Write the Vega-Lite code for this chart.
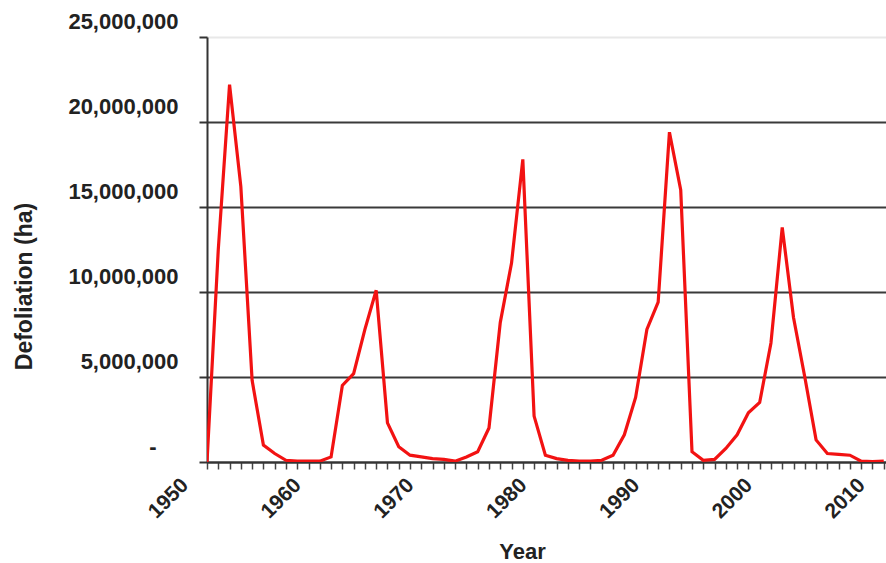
{
  "$schema": "https://vega.github.io/schema/vega-lite/v6.json",
  "width": 679,
  "height": 425,
  "autosize": "none",
  "padding": {"left": 207, "top": 37, "right": 0, "bottom": 101},
  "background": "white",
  "config": {"view": {"stroke": null}, "font": "Liberation Sans"},
  "data": {"values": [
    {"year": 1950, "ha": 0},
    {"year": 1951, "ha": 12500000},
    {"year": 1952, "ha": 22200000},
    {"year": 1953, "ha": 16200000},
    {"year": 1954, "ha": 4800000},
    {"year": 1955, "ha": 1000000},
    {"year": 1956, "ha": 500000},
    {"year": 1957, "ha": 100000},
    {"year": 1958, "ha": 50000},
    {"year": 1959, "ha": 50000},
    {"year": 1960, "ha": 50000},
    {"year": 1961, "ha": 300000},
    {"year": 1962, "ha": 4500000},
    {"year": 1963, "ha": 5200000},
    {"year": 1964, "ha": 7800000},
    {"year": 1965, "ha": 10100000},
    {"year": 1966, "ha": 2300000},
    {"year": 1967, "ha": 900000},
    {"year": 1968, "ha": 400000},
    {"year": 1969, "ha": 300000},
    {"year": 1970, "ha": 200000},
    {"year": 1971, "ha": 150000},
    {"year": 1972, "ha": 50000},
    {"year": 1973, "ha": 300000},
    {"year": 1974, "ha": 600000},
    {"year": 1975, "ha": 2000000},
    {"year": 1976, "ha": 8200000},
    {"year": 1977, "ha": 11700000},
    {"year": 1978, "ha": 17800000},
    {"year": 1979, "ha": 2700000},
    {"year": 1980, "ha": 400000},
    {"year": 1981, "ha": 200000},
    {"year": 1982, "ha": 100000},
    {"year": 1983, "ha": 50000},
    {"year": 1984, "ha": 50000},
    {"year": 1985, "ha": 100000},
    {"year": 1986, "ha": 400000},
    {"year": 1987, "ha": 1600000},
    {"year": 1988, "ha": 3800000},
    {"year": 1989, "ha": 7800000},
    {"year": 1990, "ha": 9400000},
    {"year": 1991, "ha": 19400000},
    {"year": 1992, "ha": 16000000},
    {"year": 1993, "ha": 600000},
    {"year": 1994, "ha": 100000},
    {"year": 1995, "ha": 150000},
    {"year": 1996, "ha": 800000},
    {"year": 1997, "ha": 1600000},
    {"year": 1998, "ha": 2900000},
    {"year": 1999, "ha": 3500000},
    {"year": 2000, "ha": 7000000},
    {"year": 2001, "ha": 13800000},
    {"year": 2002, "ha": 8500000},
    {"year": 2003, "ha": 5000000},
    {"year": 2004, "ha": 1300000},
    {"year": 2005, "ha": 500000},
    {"year": 2006, "ha": 450000},
    {"year": 2007, "ha": 400000},
    {"year": 2008, "ha": 50000},
    {"year": 2009, "ha": 30000},
    {"year": 2010, "ha": 50000}
  ]},
  "mark": {"type": "line", "color": "#f21212", "strokeWidth": 3.2, "clip": true},
  "encoding": {
    "x": {
      "field": "year",
      "type": "quantitative",
      "scale": {"domain": [1950, 2010.2], "nice": false, "zero": false},
      "axis": {
        "title": "Year",
        "values": [1950,1951,1952,1953,1954,1955,1956,1957,1958,1959,1960,1961,1962,1963,1964,1965,1966,1967,1968,1969,1970,1971,1972,1973,1974,1975,1976,1977,1978,1979,1980,1981,1982,1983,1984,1985,1986,1987,1988,1989,1990,1991,1992,1993,1994,1995,1996,1997,1998,1999,2000,2001,2002,2003,2004,2005,2006,2007,2008,2009,2010],
        "format": "d",
        "labelExpr": "datum.value % 10 === 0 ? datum.label : ''",
        "labelAngle": -45,
        "labelOffset": -30,
        "labelOverlap": false,
        "labelFlush": false,
        "labelBound": false,
        "labelFontSize": 21,
        "labelFontWeight": "bold",
        "labelColor": "#222222",
        "labelPadding": 5,
        "tickSize": 7,
        "tickColor": "#444444",
        "tickWidth": 1.5,
        "domainColor": "#333333",
        "domainWidth": 2,
        "grid": false,
        "titleFontSize": 22,
        "titleFontWeight": "bold",
        "titleColor": "#222222",
        "titleX": 315,
        "titleY": 89,
        "titleAlign": "center",
        "titleBaseline": "middle"
      }
    },
    "y": {
      "field": "ha",
      "type": "quantitative",
      "scale": {"domain": [0, 25000000], "nice": false},
      "axis": {
        "title": "Defoliation  (ha)",
        "values": [0, 5000000, 10000000, 15000000, 20000000, 25000000],
        "labelExpr": "datum.value == 0 ? '-' : format(datum.value, ',')",
        "labelFontSize": 22,
        "labelFontWeight": "bold",
        "labelColor": "#222222",
        "labelOffset": -16,
        "labelPadding": {"condition": {"test": "datum.value == 0", "value": 43}, "value": 21},
        "tickSize": 8,
        "tickColor": "#333333",
        "tickWidth": 2,
        "domainColor": "#333333",
        "domainWidth": 2,
        "grid": true,
        "gridColor": {"condition": {"test": "datum.value >= 25000000", "value": "#e8e8e8"}, "value": "#3a3a3a"},
        "gridWidth": 2,
        "titleFontSize": 23,
        "titleFontWeight": "bold",
        "titleColor": "#222222",
        "titleX": -183,
        "titleY": 249,
        "titleAngle": 270,
        "titleAlign": "center",
        "titleBaseline": "middle"
      }
    }
  }
}
